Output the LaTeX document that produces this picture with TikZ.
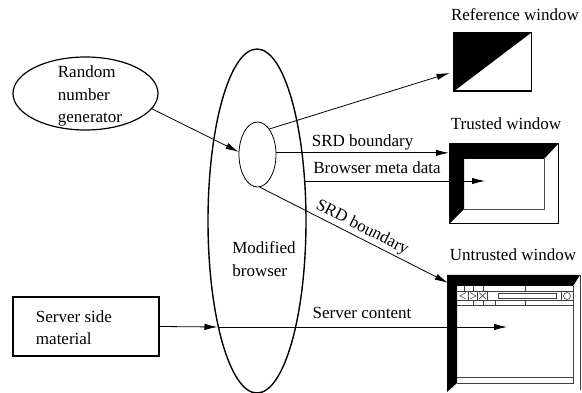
\documentclass[tikz,border=0pt]{standalone}
\usepackage{fontspec}
\setmainfont{Liberation Serif}
\usetikzlibrary{arrows.meta,shapes.geometric}
\begin{document}
\begin{tikzpicture}[x=1pt,y=-1pt,
  font=\fontsize{17}{22.5}\selectfont,
  arr/.style={-{Latex[length=13pt,width=6.5pt]}, line width=0.8pt},
  plain/.style={line width=0.8pt},
  lbl/.style={inner sep=0pt, align=left},
  tb/.style={line width=0.6pt, black!75},
  oval/.style={draw, ellipse, inner sep=0pt}]
\useasboundingbox (0,0) rectangle (582,393);

% ovals
\node[oval, minimum width=145pt, minimum height=73pt, line width=1.2pt] (rng) at (85.5,93.5) {};
\node[lbl] (rngtext) at (90,96) {Random\\number\\generator};
\node[oval, minimum width=98pt, minimum height=344pt, line width=1.4pt] (browser) at (257,221) {};
\node[lbl] (browsertext) at (264,259) {Modified\\browser};
\node[oval, minimum width=37pt, minimum height=65pt, line width=0.8pt] (sid) at (257.5,154.5) {};

% server side box
\node[draw, line width=1.1pt, minimum width=146pt, minimum height=59pt, inner sep=0pt] (srv) at (86,326.5) {};
\node[lbl] (srvtext) at (74,327.5) {Server side\\material};

% reference window
\node[draw, line width=1pt, minimum width=77pt, minimum height=58pt, inner sep=0pt] (refwin) at (492.5,62) {};
\fill (refwin.south west) -- (refwin.north west) -- (refwin.north east) -- cycle;
\draw[line width=1pt] (refwin.south west) rectangle (refwin.north east);
\node (reflbl) at (515,15) {Reference window};

% trusted window
\node[minimum width=109pt, minimum height=80pt, inner sep=0pt] (trwin) at (503.5,184) {};
\fill (449,224) -- (449,144) -- (558,144) -- (544,159) -- (464,159) -- (464,209) -- cycle;
\draw[line width=0.7pt, black!70] (464,209) -- (544,209) -- (544,159);
\draw[line width=1pt] (449,144) rectangle (558,224);
\node (trlbl) at (506,124) {Trusted window};

% untrusted window
\node[minimum width=133pt, minimum height=117pt, inner sep=0pt] (untr) at (513.5,333.5) {};
\fill (447,392) -- (447,275) -- (580,275) -- (573,286) -- (457,286) -- (457,383) -- cycle;
\draw[tb] (580,275) -- (580,390);
\draw[tb] (457,383) -- (573,383) -- (573,286);
\draw[tb] (457,377) -- (573,377);
% toolbar
\draw[tb] (457,291) -- (573,291);
\draw[tb] (457,300.5) -- (573,300.5);
\draw[tb] (457,305) -- (573,305);
\foreach \x in {464,473,483,525} \draw[tb] (\x,286) -- (\x,291);
\foreach \x in {473,483,495,525} \draw[tb] (\x,300.5) -- (\x,305);
\foreach \x in {468,477.5,487,561} \draw[tb] (\x,291) -- (\x,300.5);
\draw[tb] (466,292.5) -- (460,296) -- (466,299);
\draw[tb] (470,292.5) -- (476,296) -- (470,299);
\draw[tb] (479,292.5) -- (486,299) (479,299) -- (486,292.5);
\draw[tb] (498,293.5) rectangle (556,298);
\draw[tb] (567,296) circle (3.5pt);
\node (unlbl) at (513,255) {Untrusted window};

% connectors
\draw[arr] (rng.-13) -- (sid.172);
\draw[arr] (sid.65) -- ([xshift=-4pt,yshift=-11pt]refwin.west);
\draw[arr] (sid.5) -- (sid.5 -| trwin.west) node[pos=0.5, above=2pt, lbl] (srd1) {SRD boundary};
\coordinate (meta) at (304,181);
\coordinate (metaend) at (485,181);
\draw[arr] (meta) -- (metaend);
\node[lbl] (metalbl) at (377,168) {Browser meta data};
\draw[arr] (sid.-86) -- ([xshift=1pt,yshift=-8pt]untr.north west) node[pos=0.52, above=2pt, sloped, inner sep=0pt] (srd2) {SRD boundary};
\coordinate (sc1) at (217.5,327);
\coordinate (sc2) at (507,327);
\draw[arr] (srv.east) -- (sc1);
\draw[arr] (sc1) -- (sc2);
\node[lbl] (sclbl) at (362,313) {Server content};
\end{tikzpicture}
\end{document}
